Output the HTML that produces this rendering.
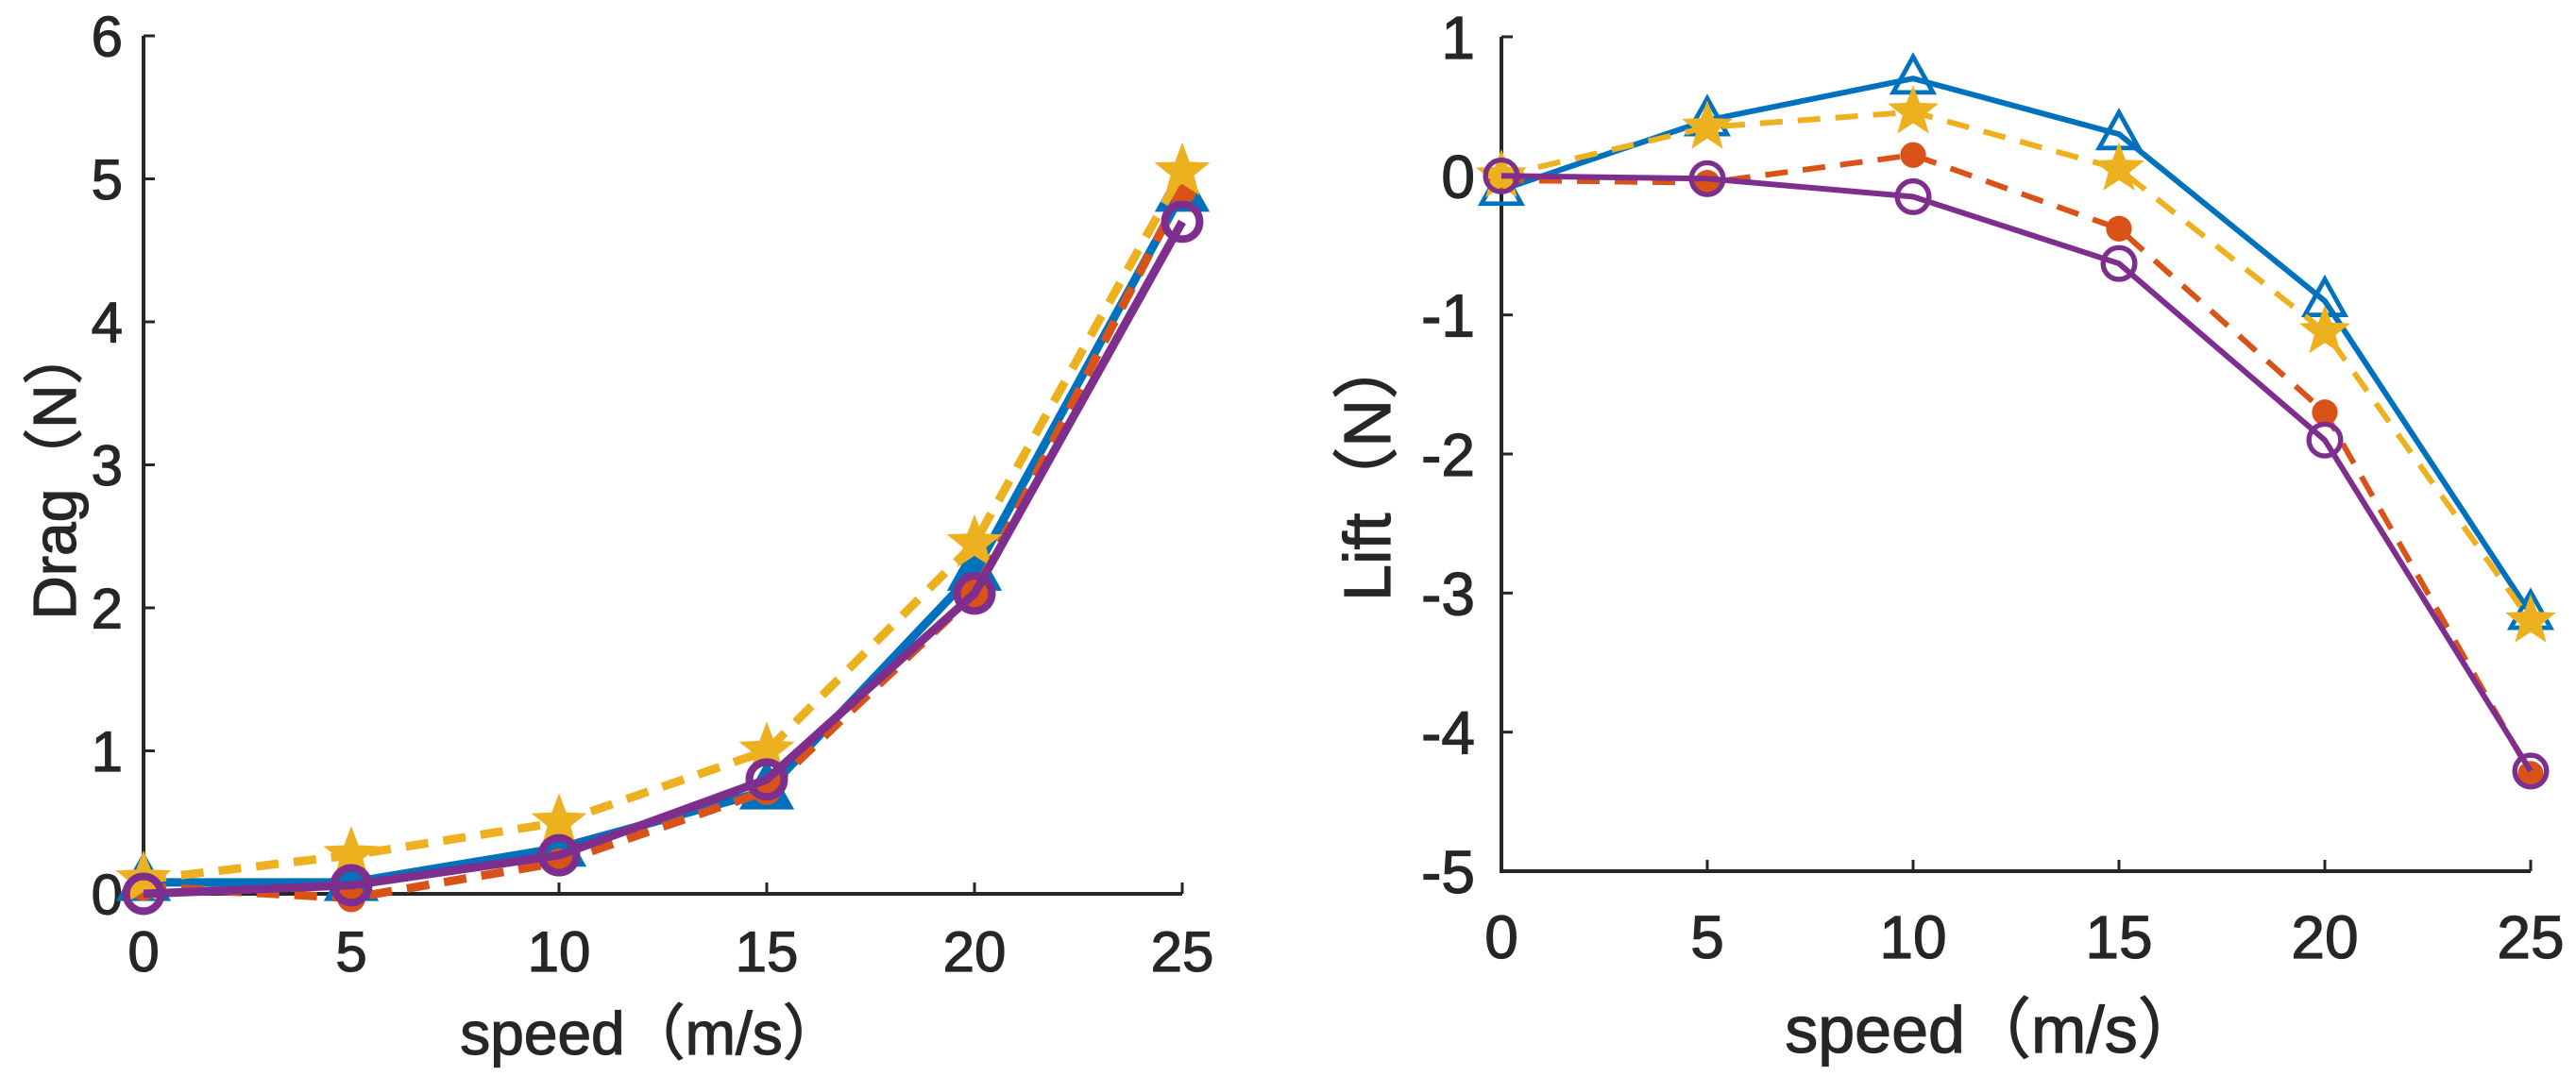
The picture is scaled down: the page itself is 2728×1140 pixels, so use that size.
<!DOCTYPE html>
<html><head><meta charset="utf-8"><style>
html,body{margin:0;padding:0;background:#fff;}
svg{display:block;}
text{font-family:"Liberation Sans","Noto Sans CJK SC",sans-serif;fill:#262626;stroke:#262626;stroke-width:1.2px;}
</style></head><body>
<svg id="chart" width="2728" height="1140" viewBox="0 0 2728 1140" xmlns="http://www.w3.org/2000/svg"></svg>
<script>
const speeds = [0, 5, 10, 15, 20, 25];
const xTicks = [0, 5, 10, 15, 20, 25];
const dragTicks = [0, 1, 2, 3, 4, 5, 6];
const liftTicks = [1, 0, -1, -2, -3, -4, -5];
const dragBlue = [0.08, 0.08, 0.32, 0.72, 2.25, 4.9];
const dragOrange = [0.05, -0.03, 0.22, 0.72, 2.1, 4.92];
const dragYellow = [0.1, 0.27, 0.5, 1.0, 2.45, 5.05];
const dragPurple = [0, 0.06, 0.27, 0.8, 2.1, 4.7];
const liftBlue = [-0.1, 0.4, 0.7, 0.3, -0.9, -3.15];
const liftOrange = [-0.03, -0.05, 0.15, -0.38, -1.7, -4.3];
const liftYellow = [0, 0.35, 0.46, 0.05, -1.12, -3.2];
const liftPurple = [0, -0.02, -0.15, -0.63, -1.9, -4.28];

const NS = 'http://www.w3.org/2000/svg';
const svg = document.getElementById('chart');
function mk(tag, attrs, parent) {
  const e = document.createElementNS(NS, tag);
  for (const k in attrs) e.setAttribute(k, attrs[k]);
  (parent || svg).appendChild(e);
  return e;
}
function starPts(cx, cy, r) {
  const p = [];
  for (let i = 0; i < 10; i++) {
    const a = -Math.PI / 2 + i * Math.PI / 5;
    const rr = i % 2 ? r * 0.42 : r;
    p.push((cx + rr * Math.cos(a)).toFixed(1) + ',' + (cy + rr * Math.sin(a)).toFixed(1));
  }
  return p.join(' ');
}

function panel(cfg) {
  const g = mk('g', {});
  
  
  const xs = v => cfg.x0 + (v - 0) / 25 * (cfg.x1 - cfg.x0);
  const ys = v => cfg.yb + (v - cfg.ymin) / (cfg.ymax - cfg.ymin) * (cfg.yt - cfg.yb);
  const ax = mk('path', {d: `M${cfg.x0},${cfg.yt} V${cfg.yb} H${cfg.x1}`, fill: 'none', stroke: '#262626', 'stroke-width': 4}, g);
  
  
  xTicks.forEach(t => {
    const x = xs(t);
    const tk = mk('line', {x1: x, x2: x, y1: cfg.yb, y2: cfg.yb - 12, stroke: '#262626', 'stroke-width': 3}, g);
    
    
    const lb = mk('text', {x: x, y: cfg.xLabelY, 'text-anchor': 'middle', 'font-size': cfg.tickFs}, g);
    lb.textContent = t;
    
    
  });
  cfg.yTicks.forEach(t => {
    const y = ys(t);
    const tk = mk('line', {x1: cfg.x0, x2: cfg.x0 + 12, y1: y, y2: y, stroke: '#262626', 'stroke-width': 3}, g);
    
    
    const lb = mk('text', {x: cfg.yLabelX, y: y + cfg.tickFs * 0.36, 'text-anchor': 'end', 'font-size': cfg.tickFs}, g);
    lb.textContent = t;
    
    
  });
  const xt = mk('text', {x: cfg.xTitleX, y: cfg.xTitleY, 'text-anchor': 'middle', 'font-size': cfg.titleFs}, g);
  xt.textContent = 'speed（m/s）';
  
  
  const yt = mk('text', {x: 0, y: 0, 'text-anchor': 'middle', 'font-size': cfg.titleFs, transform: `translate(${cfg.yTitleX},${cfg.yTitleY}) rotate(-90)`}, g);
  yt.textContent = cfg.yTitle;
  
  

  const series = [
    {vals: cfg.blue, color: '#0072BD', dash: null, marker: 'tri', name: 'series-blue'},
    {vals: cfg.orange, color: '#D95319', dash: '24 16', marker: 'dot', name: 'series-orange'},
    {vals: cfg.yellow, color: '#EDB120', dash: '24 16', marker: 'star', name: 'series-yellow'},
    {vals: cfg.purple, color: '#7E2F8E', dash: null, marker: 'circ', name: 'series-purple'}
  ];
  series.forEach(s => {
    const sg = mk('g', {}, g);
    
    
    const pts = s.vals.map((v, i) => xs(speeds[i]).toFixed(1) + ',' + ys(v).toFixed(1)).join(' ');
    const attrs = {points: pts, fill: 'none', stroke: s.color, 'stroke-width': cfg.lw, 'stroke-linejoin': 'round'};
    if (s.dash) attrs['stroke-dasharray'] = s.dash;
    const ln = mk('polyline', attrs, sg);
    
    
    s.vals.forEach((v, i) => {
      const cx = xs(speeds[i]), cy = ys(v);
      let m;
      const r = cfg.mr;
      if (s.marker === 'tri') {
        m = mk('polygon', {points: `${cx},${cy - r * 1.1} ${cx - r},${cy + r * 0.7} ${cx + r},${cy + r * 0.7}`, fill: cfg.fillTri ? s.color : 'none', stroke: s.color, 'stroke-width': cfg.lw * 0.8}, sg);
      } else if (s.marker === 'dot') {
        m = mk('circle', {cx: cx, cy: cy, r: r * 0.65, fill: s.color}, sg);
      } else if (s.marker === 'star') {
        m = mk('polygon', {points: starPts(cx, cy, r * 1.35), fill: s.color}, sg);
      } else {
        m = mk('circle', {cx: cx, cy: cy, r: r * 0.8, fill: 'none', stroke: s.color, 'stroke-width': cfg.lw * 0.9}, sg);
      }
      
      
    });
  });
}

panel({name: 'drag-panel', x0: 152, x1: 1252, yt: 38, yb: 947, ymin: 0, ymax: 6,
  yTicks: dragTicks, tickFs: 60, titleFs: 64, xLabelY: 1029, yLabelX: 130,
  xTitleX: 690, xTitleY: 1117, yTitleX: 80, yTitleY: 500, yTitle: 'Drag（N）',
  blue: dragBlue, orange: dragOrange, yellow: dragYellow, purple: dragPurple, lw: 9, mr: 23, fillTri: true});
panel({name: 'lift-panel', x0: 1590, x1: 2680, yt: 39, yb: 923, ymin: -5, ymax: 1,
  yTicks: liftTicks, tickFs: 64, titleFs: 70, xLabelY: 1015, yLabelX: 1562,
  xTitleX: 2112, xTitleY: 1115, yTitleX: 1472, yTitleY: 495, yTitle: 'Lift（N）',
  blue: liftBlue, orange: liftOrange, yellow: liftYellow, purple: liftPurple, lw: 6, mr: 21, fillTri: false});
</script>
</body></html>
